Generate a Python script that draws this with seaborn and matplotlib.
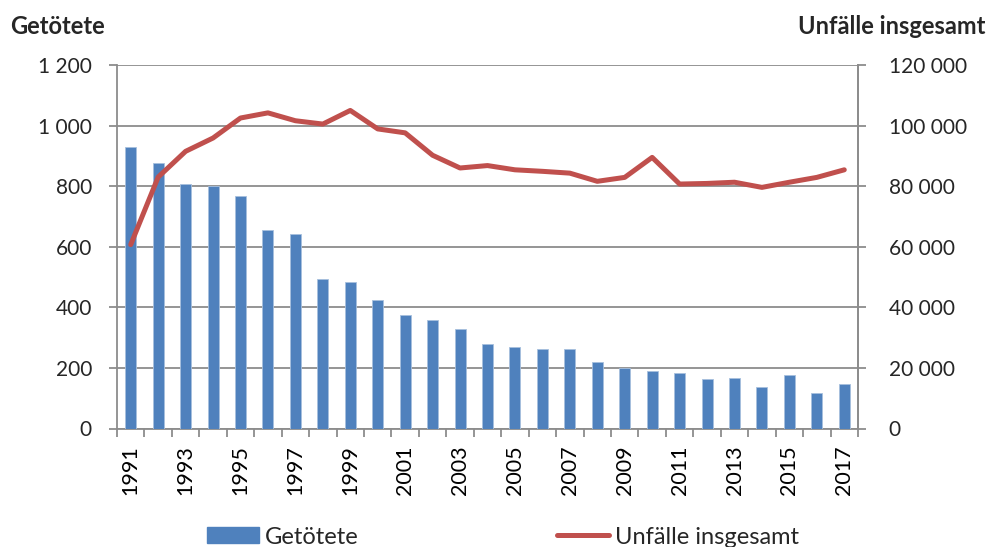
import numpy as np
import pandas as pd
import seaborn as sns
import matplotlib
matplotlib.use("Agg")
import matplotlib.pyplot as plt
from matplotlib.ticker import FuncFormatter, FixedLocator
from matplotlib.patches import Patch
from matplotlib.lines import Line2D

years = list(range(1991, 2018))
getoetete = [930, 876, 807, 801, 768, 656, 643, 494, 485, 424, 374, 358, 328, 278,
             268, 261, 263, 221, 200, 190, 184, 164, 168, 136, 177, 118, 146]
unfaelle = [60700, 83000, 91500, 95900, 102500, 104200, 101600, 100500, 105000, 98900,
            97600, 90200, 86000, 86800, 85400, 84900, 84300, 81600, 82900, 89500,
            80700, 80900, 81300, 79600, 81300, 82900, 85400]
left_ticks = [0, 200, 400, 600, 800, 1000, 1200]
right_ticks = [0, 20000, 40000, 60000, 80000, 100000, 120000]

BLUE = "#4F81BD"
RED = "#C0504D"
GRID = "#8C8C8C"

sns.set_theme(style="white")
plt.rcParams["font.family"] = ["Lato", "DejaVu Sans"]

df = pd.DataFrame({"year": [str(y) for y in years], "pos": np.arange(len(years)),
                   "Getötete": getoetete, "Unfälle insgesamt": unfaelle})

fig = plt.figure(figsize=(9.92, 5.47), dpi=100)
ax = fig.add_axes([117/992, 1-428.5/547, (858-117)/992, (428.5-65)/547])

sns.barplot(data=df, x="year", y="Getötete", color=BLUE, width=0.4, ax=ax,
            saturation=1, edgecolor="#A7C0DE", linewidth=0.6, zorder=3)
ax.set_xlim(-0.5, len(years) - 0.5)
ax.set_ylim(0, 1200)
ax.set_yticks(left_ticks)
fmt = FuncFormatter(lambda v, p: f"{int(v):,}".replace(",", " "))
ax.yaxis.set_major_formatter(fmt)
ax.grid(axis="y", color=GRID, linewidth=1.3, zorder=0)
ax.set_axisbelow(True)
ax.set_xlabel("")
ax.set_ylabel("")

# x ticks: labels every other year, tick marks at category boundaries
ax.set_xticks(np.arange(0, len(years), 2))
ax.set_xticklabels([str(y) for y in years[::2]], rotation=90)
ax.xaxis.set_minor_locator(FixedLocator(np.arange(-0.5, len(years), 1)))
ax.tick_params(axis="x", which="major", length=0, pad=12, labelsize=15.5, colors="black")
ax.tick_params(axis="x", which="minor", length=6, width=1.3, color=GRID, bottom=True)
ax.tick_params(axis="y", which="major", length=6, width=1.3, color=GRID, labelsize=15,
               pad=12, left=True)

for s in ["top"]:
    ax.spines[s].set_visible(False)
for s in ["left", "right", "bottom"]:
    ax.spines[s].set_color(GRID)
    ax.spines[s].set_linewidth(1.3)

ax2 = ax.twinx()
sns.lineplot(data=df, x="pos", y="Unfälle insgesamt", color=RED, linewidth=3.6, ax=ax2,
             zorder=4)
ax2.set_ylim(0, 120000)
ax2.set_yticks(right_ticks)
ax2.yaxis.set_major_formatter(fmt)
ax2.set_ylabel("")
ax2.set_xlabel("")
ax2.tick_params(axis="y", which="major", length=6, width=1.3, color=GRID, labelsize=15,
                pad=16, right=True)
ax2.set_xlim(-0.5, len(years) - 0.5)
for s in ["top", "left", "bottom"]:
    ax2.spines[s].set_visible(False)
ax2.spines["right"].set_color(GRID)
ax2.spines["right"].set_linewidth(1.3)

fig.text(10/992, 1-26/547, "Getötete", fontsize=17, fontweight="bold", ha="left", va="center")
fig.text(985/992, 1-26/547, "Unfälle insgesamt", fontsize=17, fontweight="bold",
         ha="right", va="center")

handles = [Patch(facecolor=BLUE, edgecolor=BLUE), Line2D([0], [0], color=RED, linewidth=3.6)]
fig.legend(handles, ["Getötete", "Unfälle insgesamt"], loc="center",
           bbox_to_anchor=(503/992, 1-537/547), ncol=2, frameon=False, fontsize=17,
           handlelength=2.2, handleheight=0.65, handletextpad=0.25, columnspacing=8.4,
           borderpad=0)

fig.savefig("out.png", dpi=100)
